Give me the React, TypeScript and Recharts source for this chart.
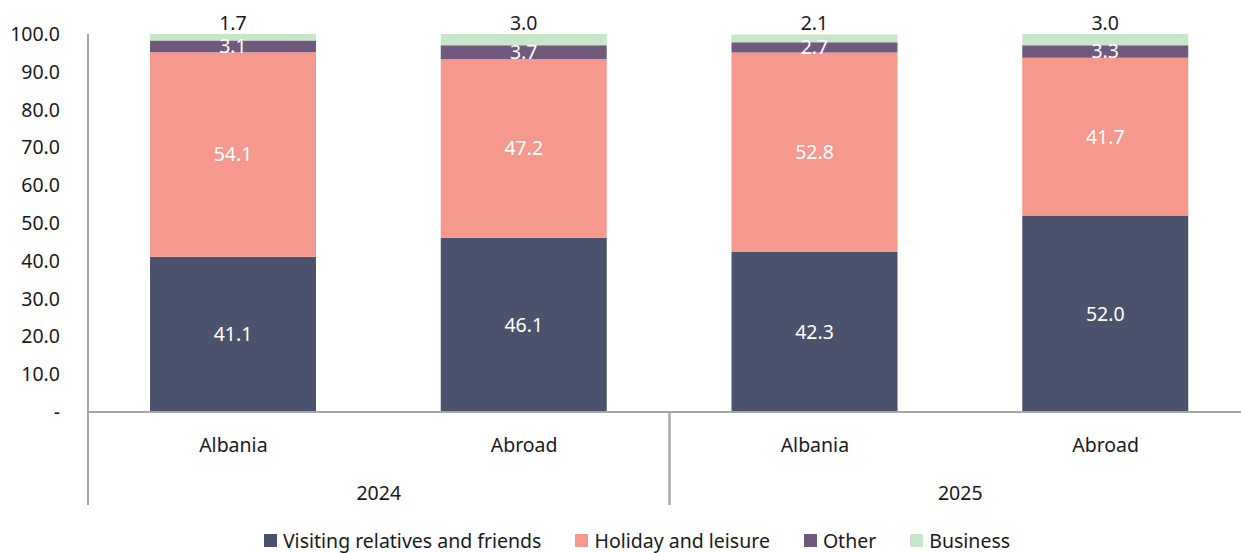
import React from "react";
import {
  BarChart,
  Bar,
  XAxis,
  YAxis,
  Legend,
  LabelList,
} from "recharts";

// categories and values
const places = ["Albania", "Abroad", "Albania", "Abroad"];
const years = ["2024", "2024", "2025", "2025"];
const visiting = [41.1, 46.1, 42.3, 52.0];
const holiday = [54.1, 47.2, 52.8, 41.7];
const other = [3.1, 3.7, 2.7, 3.3];
const business = [1.7, 3.0, 2.1, 3.0];
const yTicks = [0, 10, 20, 30, 40, 50, 60, 70, 80, 90, 100];

const seriesNames = [
  "Visiting relatives and friends",
  "Holiday and leisure",
  "Other",
  "Business",
];
const colors = ["#4b526c", "#f5998e", "#6f5a7d", "#c8e6c9"];

const data = places.map((p, i) => ({
  key: `${p}-${years[i]}`,
  place: p,
  year: years[i],
  visiting: visiting[i],
  holiday: holiday[i],
  other: other[i],
  business: business[i],
}));

const FONT = "'Noto Sans', sans-serif";
const FS = 19.5;
const CHART_W = 1251;
const CHART_H = 553;
const LEFT = 88;
const BAND = (CHART_W - LEFT) / data.length;
const AXIS_GREY = "#a6a6a6";

const fmt = (v: number) => (v === 0 ? "-" : v.toFixed(1));

const CategoryTick = (props: any) => {
  const { x, y, index } = props;
  const row = data[index];
  const prev = data[index - 1];
  const next = data[index + 1];
  const startsGroup = !prev || prev.year !== row.year;
  const endsGroup = !next || next.year !== row.year;
  return (
    <g>
      <text
        x={x}
        y={y + 32}
        textAnchor="middle"
        dominantBaseline="central"
        fontSize={FS}
        fontFamily={FONT}
        fill="#1a1a1a"
      >
        {row.place}
      </text>
      {startsGroup && (
        <line x1={x - BAND / 2} x2={x - BAND / 2} y1={y} y2={y + 93} stroke={AXIS_GREY} strokeWidth={2} />
      )}
      {endsGroup && (
        <line x1={x + BAND / 2} x2={x + BAND / 2} y1={y} y2={y + 93} stroke={AXIS_GREY} strokeWidth={2} />
      )}
      {startsGroup && next && next.year === row.year && (
        <text
          x={x + BAND / 2}
          y={y + 80}
          textAnchor="middle"
          dominantBaseline="central"
          fontSize={FS}
          fontFamily={FONT}
          fill="#1a1a1a"
        >
          {row.year}
        </text>
      )}
    </g>
  );
};

const LegendContent = () => (
  <div
    style={{
      display: "flex",
      justifyContent: "center",
      gap: 34,
      fontFamily: FONT,
      fontSize: FS,
      color: "#1a1a1a",
    }}
  >
    {seriesNames.map((name, i) => (
      <div key={name} style={{ display: "flex", alignItems: "center" }}>
        <span
          style={{
            width: 13,
            height: 13,
            background: colors[i],
            display: "inline-block",
            marginRight: 6,
          }}
        />
        <span>{name}</span>
      </div>
    ))}
  </div>
);

const App: React.FC = () => {
  return (
    <div
      style={{
        position: "absolute",
        left: 0,
        top: 0,
        width: 1241,
        height: 553,
        overflow: "hidden",
        background: "#fff",
      }}
    >
      <BarChart
        width={CHART_W}
        height={CHART_H}
        data={data}
        margin={{ top: 34, right: 0, bottom: 41, left: 0 }}
      >
        <XAxis
          dataKey="key"
          height={100}
          tickLine={false}
          tickSize={0}
          tickMargin={0}
          interval={0}
          axisLine={{ stroke: AXIS_GREY, strokeWidth: 2 }}
          tick={<CategoryTick />}
        />
        <YAxis
          width={LEFT}
          domain={[0, 100]}
          ticks={yTicks}
          tickFormatter={fmt}
          tickLine={false}
          tickSize={0}
          tickMargin={28}
          axisLine={{ stroke: AXIS_GREY, strokeWidth: 2 }}
          tick={{ fontSize: FS, fontFamily: FONT, fill: "#1a1a1a" }}
        />
        <Legend
          verticalAlign="middle"
          align="center"
          layout="horizontal"
          wrapperStyle={{ top: 527, left: 0, width: 1274 }}
          content={<LegendContent />}
        />
        <Bar dataKey="visiting" stackId="a" fill={colors[0]} barSize={166} isAnimationActive={false}>
          <LabelList dataKey="visiting" position="center" formatter={fmt} fill="#fff" fontSize={FS} fontFamily={FONT} />
        </Bar>
        <Bar dataKey="holiday" stackId="a" fill={colors[1]} barSize={166} isAnimationActive={false}>
          <LabelList dataKey="holiday" position="center" formatter={fmt} fill="#fff" fontSize={FS} fontFamily={FONT} />
        </Bar>
        <Bar dataKey="other" stackId="a" fill={colors[2]} barSize={166} isAnimationActive={false}>
          <LabelList dataKey="other" position="center" formatter={fmt} fill="#fff" fontSize={FS} fontFamily={FONT} />
        </Bar>
        <Bar dataKey="business" stackId="a" fill={colors[3]} barSize={166} isAnimationActive={false}>
          <LabelList dataKey="business" position="top" offset={4} formatter={fmt} fill="#1a1a1a" fontSize={FS} fontFamily={FONT} />
        </Bar>
      </BarChart>
    </div>
  );
};

export default App;
